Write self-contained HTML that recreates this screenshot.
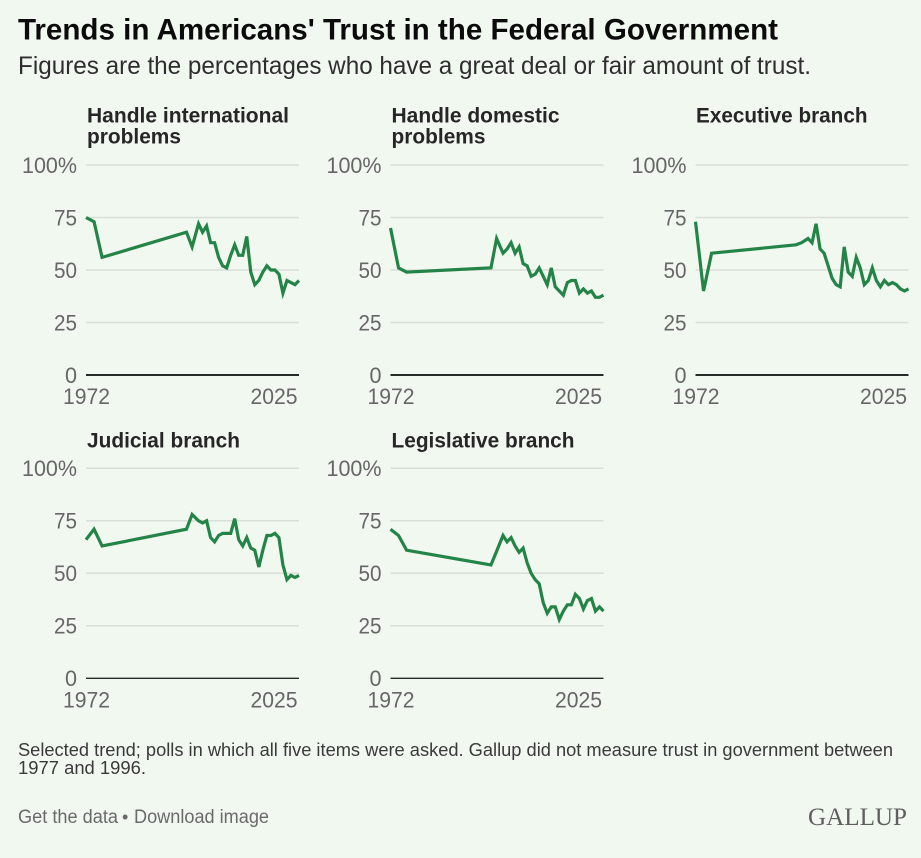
<!DOCTYPE html>
<html lang="en">
<head>
<meta charset="utf-8">
<title>Trends in Americans' Trust in the Federal Government</title>
<style>
html,body{margin:0;padding:0;background:#f1f8f0;}
svg{display:block;font-family:"Liberation Sans",sans-serif;}
</style>
</head>
<body>
<svg id="chart" width="921" height="858" viewBox="0 0 921 858" xmlns="http://www.w3.org/2000/svg">
  <rect x="0" y="0" width="921" height="858" fill="#f1f8f0"/>
  <text x="18" y="39.5" font-size="30" font-weight="700" fill="#0b0b0b" textLength="760" lengthAdjust="spacingAndGlyphs">Trends in Americans' Trust in the Federal Government</text>
  <text x="18" y="74" font-size="25" fill="#2e2e2e" textLength="793" lengthAdjust="spacingAndGlyphs">Figures are the percentages who have a great deal or fair amount of trust.</text>

  <text font-size="21" font-weight="700" fill="#262626">
    <tspan x="87" y="122.7" textLength="202" lengthAdjust="spacingAndGlyphs">Handle international</tspan>
    <tspan x="87" y="143.7" textLength="94" lengthAdjust="spacingAndGlyphs">problems</tspan>
  </text>
  <text font-size="21" font-weight="700" fill="#262626">
    <tspan x="391.5" y="122.7" textLength="168" lengthAdjust="spacingAndGlyphs">Handle domestic</tspan>
    <tspan x="391.5" y="143.7" textLength="94" lengthAdjust="spacingAndGlyphs">problems</tspan>
  </text>
  <text x="696" y="122.7" font-size="21" font-weight="700" fill="#262626" textLength="171.5" lengthAdjust="spacingAndGlyphs">Executive branch</text>
  <text x="87" y="447.7" font-size="21" font-weight="700" fill="#262626" textLength="153" lengthAdjust="spacingAndGlyphs">Judicial branch</text>
  <text x="391.5" y="447.7" font-size="21" font-weight="700" fill="#262626" textLength="183" lengthAdjust="spacingAndGlyphs">Legislative branch</text>

  <g id="panels"></g>

  <text font-size="18" fill="#3a3a3a">
    <tspan x="18" y="756" textLength="875" lengthAdjust="spacingAndGlyphs">Selected trend; polls in which all five items were asked. Gallup did not measure trust in government between</tspan>
    <tspan x="18" y="774" textLength="128" lengthAdjust="spacingAndGlyphs">1977 and 1996.</tspan>
  </text>
  <text x="18" y="823" font-size="19" fill="#6a6a6a" textLength="100" lengthAdjust="spacingAndGlyphs" style="cursor:pointer">Get the data</text>
  <text x="122" y="823" font-size="18" fill="#6a6a6a">•</text>
  <text x="134" y="823" font-size="19" fill="#6a6a6a" textLength="135" lengthAdjust="spacingAndGlyphs" style="cursor:pointer">Download image</text>
  <text x="808" y="825" font-family="'Liberation Serif',serif" font-size="25.5" fill="#5f5f5f" textLength="99" lengthAdjust="spacingAndGlyphs">GALLUP</text>
</svg>
<script>
const years = [1972,1974,1976,1997,1998.4,2000,2001,2002,2003,2004,2005,2006,2007,2008,2009,2010,2011,2012,2013,2014,2015,2016,2017,2018,2019,2020,2021,2022,2023,2024,2025];
const international = [75,73,56,68,61,72,68,71,63,63,56,52,51,57,62,57,57,66,49,43,45,49,52,50,50,48,39,45,44,43,45];
const domestic = [70,51,49,51,65,58,60,63,58,61,53,52,47,48,51,47,43,51,42,40,38,44,45,45,39,41,39,40,37,37,38];
const executive = [73,40,58,62,63,65,63,72,60,58,52,46,43,42,61,49,47,56,51,43,45,51,45,42,45,43,44,43,41,40,41];
const judicial = [66,71,63,71,78,75,74,75,67,65,68,69,69,69,76,66,63,67,62,61,53,61,68,68,69,67,54,47,49,48,49];
const legislative = [71,68,61,54,60.5,68,65,67,63,60,62,55,50,47,45,36,31,34,34,28,32,35,35,40,38,33,37,38,32,34,32];
const yTicks = [0,25,50,75,100];
const xTickLabels = ["1972","2025"];

const SVG_NS = "http://www.w3.org/2000/svg";
const root = document.getElementById("panels");

function node(tag, attrs, parent) {
  const el = document.createElementNS(SVG_NS, tag);
  for (const k in attrs) el.setAttribute(k, attrs[k]);
  parent.appendChild(el);
  return el;
}

function drawPanel(name, values, left, y0, y100, zeroWidth) {
  const width = 213;
  const xScale = function (yr) {
    return left + (yr - years[0]) / (years[years.length - 1] - years[0]) * width;
  };
  const yScale = function (v) {
    return y0 + (y100 - y0) * v / 100;
  };
  const g = node("g", {}, root);
  
  

  yTicks.forEach(function (t) {
    const y = yScale(t);
    if (t !== 0) {
      const grid = node("line", {x1: left, x2: left + width, y1: y, y2: y, stroke: "#d9ded9", "stroke-width": 1.5}, g);
      
      
    }
    const labelText = t === 100 ? t + "%" : String(t);
    const labelWidth = t === 100 ? 55 : (t === 0 ? 12 : 23);
    const label = node("text", {
      x: left - 9 - labelWidth, y: y + 7.9, "font-size": 22.5, fill: "#666666",
      textLength: labelWidth, lengthAdjust: "spacingAndGlyphs"
    }, g);
    
    
    label.textContent = labelText;
  });

  const line = node("path", {
    d: values.map(function (v, i) {
      return (i ? "L" : "M") + xScale(years[i]).toFixed(2) + " " + yScale(v).toFixed(2);
    }).join(""),
    fill: "none", stroke: "#248447", "stroke-width": 3.2, "stroke-linejoin": "miter", "stroke-linecap": "butt"
  }, g);
  
  

  const axis = node("line", {x1: left, x2: left + width, y1: y0, y2: y0, stroke: "#262b28", "stroke-width": zeroWidth}, g);
  
  

  xTickLabels.forEach(function (t, i) {
    const tx = node("text", {
      x: i === 0 ? left - 23 : left + width - 48.5, y: y0 + 29.2,
      "font-size": 22.5, fill: "#666666", textLength: 47, lengthAdjust: "spacingAndGlyphs"
    }, g);
    
    
    tx.textContent = t;
  });
}

drawPanel("panel-international", international, 86, 375, 165, 2);
drawPanel("panel-domestic", domestic, 390.5, 375, 165, 2);
drawPanel("panel-executive", executive, 695.5, 375, 165, 2);
drawPanel("panel-judicial", judicial, 86, 678.3, 468.3, 1.3);
drawPanel("panel-legislative", legislative, 390.5, 678.3, 468.3, 1.3);
</script>
</body>
</html>
